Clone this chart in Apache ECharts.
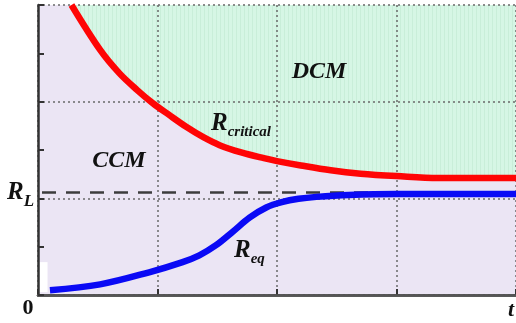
<!DOCTYPE html>
<html>
<head>
<meta charset="utf-8">
<script src="https://cdn.jsdelivr.net/npm/echarts@6/dist/echarts.min.js"></script>
<style>
  html, body { margin: 0; padding: 0; background: #ffffff; }
  #chart { width: 516px; height: 323px; }
</style>
</head>
<body>
<div id="chart"></div>
<script>
// Critical resistance boundary (red) and equivalent load resistance (blue) versus time
const redT  = [0.28, 0.52, 0.68, 0.83, 0.96, 1.10, 1.24, 1.38, 1.52, 1.70, 1.89, 2.00, 2.20, 2.45, 2.70, 3.00, 3.35, 4.00];
const redR  = [6.00, 5.07, 4.59, 4.24, 3.97, 3.72, 3.48, 3.27, 3.10, 2.95, 2.83, 2.77, 2.68, 2.58, 2.51, 2.46, 2.42, 2.42];
const blueT = [0.10, 0.52, 0.93, 1.21, 1.35, 1.49, 1.63, 1.77, 1.91, 2.04, 2.18, 2.33, 2.60, 3.00, 4.00];
const blueR = [0.10, 0.22, 0.47, 0.68, 0.82, 1.03, 1.31, 1.60, 1.81, 1.92, 1.99, 2.03, 2.07, 2.09, 2.09];
const loadR = 2.12;          // R_L level
const tRange = [0, 4];
const rRange = [0, 6];

const redData  = redT.map((t, i) => [t, redR[i]]);
const blueData = blueT.map((t, i) => [t, blueR[i]]);

// faint vertical-striped green fill for the DCM region
const tile = document.createElement('canvas');
tile.width = 4; tile.height = 4;
const g = tile.getContext('2d');
g.fillStyle = '#d6f6e5'; g.fillRect(0, 0, 4, 4);
g.fillStyle = '#c9eed9'; g.fillRect(0, 0, 1, 4);

const serif = '"Liberation Serif", "DejaVu Serif", serif';
const dotted = { type: [2, 3], color: '#6a6a6a', width: 1.5 };

const chart = echarts.init(document.getElementById('chart'), null, { renderer: 'canvas' });
chart.setOption({
  animation: false,
  backgroundColor: '#ffffff',
  grid: { left: 38, right: -2, top: 5, bottom: 28, show: true, backgroundColor: '#ebe5f4', borderWidth: 0 },
  xAxis: [
    { type: 'value', min: tRange[0], max: tRange[1], interval: 1, position: 'bottom', z: 2,
      axisLine: { show: true, lineStyle: { color: '#333', width: 2.5 } },
      axisTick: { show: true, inside: true, length: 6, lineStyle: { color: '#333', width: 2 } },
      axisLabel: { show: false },
      splitLine: { show: true, lineStyle: dotted } },
    { type: 'value', min: tRange[0], max: tRange[1], position: 'top', z: 4,
      axisLine: { show: true, lineStyle: { color: '#555', width: 2.5 } },
      axisTick: { show: false }, axisLabel: { show: false }, splitLine: { show: false } }
  ],
  yAxis: [
    { type: 'value', min: rRange[0], max: rRange[1], interval: 1, position: 'left', z: 4,
      axisLine: { show: true, lineStyle: { color: '#333', width: 2.5 } },
      axisTick: { show: true, inside: true, length: 6, lineStyle: { color: '#333', width: 2 } },
      axisLabel: { show: false }, splitLine: { show: false } },
    { type: 'value', min: rRange[0], max: rRange[1], interval: 2, position: 'left', z: 2,
      axisLine: { show: false }, axisTick: { show: false }, axisLabel: { show: false },
      splitLine: { show: true, lineStyle: dotted } }
  ],
  series: [
    { name: 'DCM region', type: 'line', data: redData, smooth: 0.35, showSymbol: false, z: 1,
      lineStyle: { width: 0 },
      areaStyle: { origin: 'end', color: { image: tile, repeat: 'repeat' }, opacity: 1 },
      markArea: { silent: true, itemStyle: { color: '#ffffff' },
        data: [[{ coord: [0.01, 0.06] }, { coord: [0.08, 0.68] }]] } },
    { name: 'R_L', type: 'line', data: [[tRange[0], loadR], [tRange[1], loadR]], showSymbol: false, z: 3,
      lineStyle: { type: [14, 10], dashOffset: -4, color: '#3c3c3c', width: 2.5 } },
    { name: 'R_critical', type: 'line', data: redData, smooth: 0.35, showSymbol: false, z: 5,
      lineStyle: { color: '#ff0505', width: 6.5 } },
    { name: 'R_eq', type: 'line', data: blueData, smooth: 0.35, showSymbol: false, z: 5,
      lineStyle: { color: '#0a0af5', width: 6.5, cap: 'butt' } }
  ],
  graphic: [
    { type: 'text', x: 319, y: 72, z: 10, style: { text: 'DCM', fill: '#111',
      font: 'italic bold 24px ' + serif, align: 'center', verticalAlign: 'middle' } },
    { type: 'text', x: 119, y: 161, z: 10, style: { text: 'CCM', fill: '#111',
      font: 'italic bold 24px ' + serif, align: 'center', verticalAlign: 'middle' } },
    { type: 'text', x: 211, y: 123, z: 10, style: { text: '{a|R}{b|critical}', fill: '#111',
      align: 'left', verticalAlign: 'middle',
      rich: { a: { font: 'italic bold 25px ' + serif, fill: '#111', verticalAlign: 'bottom', lineHeight: 26 },
              b: { font: 'italic bold 15px ' + serif, fill: '#111', verticalAlign: 'bottom', lineHeight: 26, padding: [0, 0, -4, 0] } } } },
    { type: 'text', x: 234, y: 250, z: 10, style: { text: '{a|R}{b|eq}', fill: '#111',
      align: 'left', verticalAlign: 'middle',
      rich: { a: { font: 'italic bold 25px ' + serif, fill: '#111', verticalAlign: 'bottom', lineHeight: 26 },
              b: { font: 'italic bold 15px ' + serif, fill: '#111', verticalAlign: 'bottom', lineHeight: 26, padding: [0, 0, -4, 0] } } } },
    { type: 'text', x: 7, y: 192, z: 10, style: { text: '{a|R}{b|L}', fill: '#111',
      align: 'left', verticalAlign: 'middle',
      rich: { a: { font: 'italic bold 25px ' + serif, fill: '#111', verticalAlign: 'bottom', lineHeight: 26 },
              b: { font: 'italic bold 17px ' + serif, fill: '#111', verticalAlign: 'bottom', lineHeight: 26, padding: [0, 0, -5, 0] } } } },
    { type: 'text', x: 28, y: 308, z: 10, style: { text: '0', fill: '#111',
      font: 'bold 22px ' + serif, align: 'center', verticalAlign: 'middle' } },
    { type: 'text', x: 511, y: 310, z: 10, style: { text: 't', fill: '#111',
      font: 'italic bold 22px ' + serif, align: 'center', verticalAlign: 'middle' } }
  ]
});
</script>
</body>
</html>
